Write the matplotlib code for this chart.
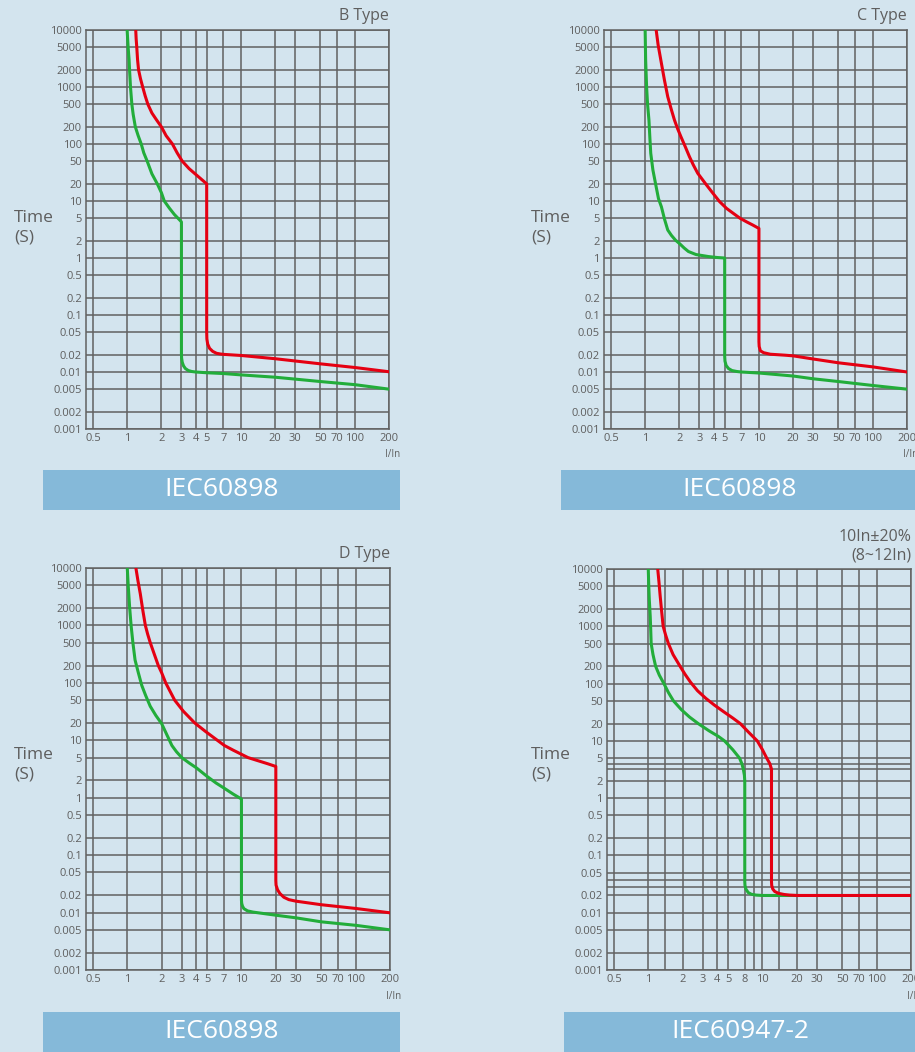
import matplotlib
matplotlib.use('Agg')
import matplotlib.pyplot as plt
from matplotlib.patches import Rectangle
from matplotlib.ticker import NullLocator

plt.rcParams.update({
    'font.family': ['Open Sans', 'DejaVu Sans'],
    'font.size': 8,
})

BG = '#d3e4ee'
GRID = '#616161'
TEXT = '#5e5e5e'
RED = '#e50012'
GREEN = '#22ad3a'
BANNER = '#85b9d9'

# axis ticks shared by all panels
x_ticks = [0.5, 1, 2, 3, 4, 5, 7, 10, 20, 30, 50, 70, 100, 200]
x_labels = ['0.5', '1', '2', '3', '4', '5', '7', '10', '20', '30', '50', '70', '100', '200']
x_labels_947 = ['0.5', '1', '2', '3', '4', '5', '8', '10', '20', '30', '50', '70', '100', '200']
y_ticks = [0.001, 0.002, 0.005, 0.01, 0.02, 0.05, 0.1, 0.2, 0.5, 1, 2, 5,
           10, 20, 50, 100, 200, 500, 1000, 2000, 5000, 10000]
y_labels = ['0.001', '0.002', '0.005', '0.01', '0.02', '0.05', '0.1', '0.2', '0.5', '1', '2', '5',
            '10', '20', '50', '100', '200', '500', '1000', '2000', '5000', '10000']

# B type
b_red_x = [1.19, 1.2, 1.215, 1.235, 1.26, 1.31, 1.37, 1.44, 1.52, 1.65, 1.8, 2.0, 2.2, 2.5, 2.75, 3.05, 3.5, 4.2, 5.0,
           5.0, 5.02, 5.1, 5.3, 5.65, 6.1, 6.6, 7, 10, 20, 30, 50, 100, 200]
b_red_t = [10000, 7000, 5000, 3000, 2000, 1400, 1000, 700, 500, 350, 270, 200, 140, 100, 70, 50, 37, 27, 20,
           0.05, 0.038, 0.031, 0.026, 0.023, 0.0213, 0.0207, 0.0204, 0.0195, 0.0171, 0.0156, 0.0139, 0.012, 0.0101]
b_green_x = [1.0, 1.01, 1.02, 1.04, 1.05, 1.07, 1.1, 1.13, 1.18, 1.25, 1.33, 1.4, 1.5, 1.65, 1.84, 2.0, 2.12, 2.35,
             2.6, 2.85, 3.0, 3.0, 3.01, 3.05, 3.13, 3.25, 3.45, 3.7, 4.0, 5, 7, 10, 20, 30, 50, 100, 200]
b_green_t = [10000, 7000, 5000, 3000, 2000, 1000, 500, 330, 200, 140, 100, 70, 50, 30, 20, 14, 10, 7.5,
             5.8, 4.8, 4.3, 0.021, 0.0175, 0.0148, 0.0128, 0.0115, 0.0106, 0.0102, 0.0100, 0.0097, 0.0094,
             0.0089, 0.0081, 0.0075, 0.0068, 0.006, 0.005]

# C type
c_red_x = [1.25, 1.3, 1.39, 1.48, 1.58, 1.7, 1.81, 1.93, 2.06, 2.25, 2.45, 2.65, 2.9, 3.4, 3.95, 4.5, 5.2, 6.0, 6.8,
           7.8, 8.8, 10, 10, 10.05, 10.3, 11, 12.6, 17.1, 20, 30, 50, 100, 200]
c_red_t = [10000, 5500, 2600, 1300, 676, 400, 263, 185, 135, 90, 60, 43, 30.6, 20, 13.6, 9.8, 7.4, 6.0, 5.0,
           4.3, 3.8, 3.3, 0.034, 0.028, 0.0235, 0.0218, 0.0205, 0.0197, 0.0192, 0.0169, 0.0145, 0.0123, 0.01]
c_green_x = [1.0, 1.01, 1.03, 1.05, 1.08, 1.1, 1.12, 1.17, 1.25, 1.31, 1.39, 1.48, 1.58, 1.7, 1.85, 2.0, 2.2, 2.4,
             2.8, 3.6, 4.3, 5.0, 5.0, 5.03, 5.15, 5.4, 5.8, 6.4, 7, 10, 20, 30, 50, 100, 200]
c_green_t = [10000, 3000, 1000, 500, 263, 130, 69, 35, 17.7, 11, 7.9, 4.8, 3.1, 2.5, 2.05, 1.8, 1.5, 1.3,
             1.15, 1.06, 1.02, 1.0, 0.019, 0.0155, 0.013, 0.0115, 0.0106, 0.0102, 0.0100, 0.0096, 0.0085,
             0.0076, 0.0068, 0.0058, 0.005]

# D type
d_red_x = [1.19, 1.24, 1.30, 1.37, 1.44, 1.51, 1.59, 1.72, 1.87, 2.0, 2.17, 2.6, 3.1, 3.9, 4.9, 6.15, 7.1, 8.5, 10,
           11.4, 14, 17, 20, 20, 20.1, 20.7, 21.7, 23.5, 26, 30, 50, 100, 200]
d_red_t = [10000, 6000, 3560, 1800, 1000, 700, 500, 320, 200, 150, 100, 50, 32, 20, 14, 10, 8.1, 6.7, 5.7,
           5.0, 4.4, 3.9, 3.5, 0.036, 0.03, 0.025, 0.0215, 0.0185, 0.0168, 0.0158, 0.0137, 0.0118, 0.0099]
d_green_x = [1.0, 1.02, 1.05, 1.08, 1.12, 1.17, 1.25, 1.34, 1.45, 1.59, 1.78, 2.0, 2.2, 2.46, 2.7, 3.0, 3.5, 4.04,
             5.0, 6.0, 7.0, 8.5, 10, 10, 10.05, 10.2, 10.5, 11.3, 12.6, 20, 30, 50, 100, 200]
d_green_t = [10000, 4800, 2000, 1000, 500, 250, 150, 90, 60, 39, 27, 19.5, 13, 8.1, 6.3, 5.0, 4.0, 3.3,
             2.35, 1.8, 1.48, 1.15, 0.95, 0.0164, 0.0145, 0.013, 0.0117, 0.0107, 0.0102, 0.009, 0.0081,
             0.0069, 0.006, 0.005]

# IEC60947-2
m_red_x = [1.21, 1.24, 1.27, 1.31, 1.35, 1.42, 1.5, 1.65, 1.9, 2.1, 2.35, 2.7, 3.2, 3.8, 4.6, 5.5, 6.4, 7.6, 9.0,
           10.0, 10.9, 11.6, 12, 12, 12.05, 12.3, 12.8, 13.8, 15.5, 17.3, 20, 200]
m_red_t = [10000, 6000, 3450, 1800, 1000, 700, 500, 320, 200, 145, 105, 75, 55, 42, 32, 25, 20, 14, 10,
           7, 5, 4, 3.2, 0.035, 0.03, 0.026, 0.0235, 0.0218, 0.0208, 0.0203, 0.02, 0.02]
m_green_x = [1.0, 1.01, 1.02, 1.04, 1.05, 1.06, 1.1, 1.16, 1.25, 1.37, 1.5, 1.66, 1.95, 2.3, 2.74, 3.4, 4.1, 4.65,
             5.5, 6.3, 6.6, 6.8, 6.95, 7.0, 7.0, 7.03, 7.15, 7.5, 8.0, 8.8, 10, 20]
m_green_t = [10000, 5000, 3000, 1500, 900, 500, 320, 200, 140, 100, 70, 50, 35, 26, 20, 15, 12, 10,
             7, 5, 4, 3.2, 2.5, 2.0, 0.035, 0.03, 0.026, 0.0225, 0.021, 0.0203, 0.02, 0.02]
m_extra_x = [1.4, 8.4, 14]
m_extra_t = [3.2, 4.0, 0.028, 0.037]

W, H = 915, 1052
fig = plt.figure(figsize=(W / 100, H / 100), dpi=100, facecolor=BG)


def px_axes(left, right, top, bottom):
    return fig.add_axes([left / W, 1 - bottom / H, (right - left) / W, (bottom - top) / H])


def draw_panel(ax, red, green, xlabels, title, extra_x=(), extra_t=()):
    ax.set_facecolor(BG)
    ax.set_xscale('log')
    ax.set_yscale('log')
    ax.set_xlim(0.435, 200)
    ax.set_ylim(0.001, 10000)
    ax.set_xticks(x_ticks, labels=xlabels)
    ax.set_yticks(y_ticks, labels=y_labels)
    ax.xaxis.set_minor_locator(NullLocator())
    ax.yaxis.set_minor_locator(NullLocator())
    ax.tick_params(length=0, colors=TEXT, labelsize=8, pad=3)
    ax.grid(True, which='major', color=GRID, lw=1.1)
    for v in extra_x:
        ax.axvline(v, color=GRID, lw=1.1)
    for v in extra_t:
        ax.axhline(v, color=GRID, lw=1.1)
    for s in ax.spines.values():
        s.set_color(GRID)
        s.set_linewidth(1.1)
    ax.plot(green[0], green[1], color=GREEN, lw=2.2, solid_joinstyle='round', zorder=3)
    ax.plot(red[0], red[1], color=RED, lw=2.2, solid_joinstyle='round', zorder=4)
    ax.text(1.036, -0.065, 'I/In', transform=ax.transAxes, ha='right', va='center',
            fontsize=7, color=TEXT)
    ax.annotate(title, xy=(1.0, 1.0), xycoords='axes fraction', xytext=(0, 7),
                textcoords='offset points', ha='right', va='baseline',
                fontsize=11.5, color=TEXT, linespacing=1.15)


ax1 = px_axes(86, 389, 30, 429)
draw_panel(ax1, (b_red_x, b_red_t), (b_green_x, b_green_t), x_labels, 'B Type')
ax2 = px_axes(604, 907, 30, 429)
draw_panel(ax2, (c_red_x, c_red_t), (c_green_x, c_green_t), x_labels, 'C Type')
ax3 = px_axes(86, 390, 568, 970)
draw_panel(ax3, (d_red_x, d_red_t), (d_green_x, d_green_t), x_labels, 'D Type')
ax4 = px_axes(607, 911, 569, 970)
draw_panel(ax4, (m_red_x, m_red_t), (m_green_x, m_green_t), x_labels_947,
           '10In±20%\n(8~12In)', m_extra_x, m_extra_t)

# y-axis captions
for x0, yc in [(14, 228), (531, 228), (14, 765), (531, 765)]:
    fig.text(x0 / W, 1 - yc / H, 'Time\n(S)', ha='left', va='center',
             fontsize=12.5, color=TEXT, linespacing=1.3)

# standard banners
banners = [(43, 400, 470, 510, 'IEC60898'), (561, 915, 470, 510, 'IEC60898'),
           (43, 400, 1012, 1052, 'IEC60898'), (564, 915, 1012, 1052, 'IEC60947-2')]
for x0, x1, y0, y1, label in banners:
    fig.add_artist(Rectangle((x0 / W, 1 - y1 / H), (x1 - x0) / W, (y1 - y0) / H,
                             transform=fig.transFigure, facecolor=BANNER, edgecolor='none'))
    cx = (x0 + x1) / 2 if x1 < 915 else 740
    fig.text(cx / W, 1 - (y0 + y1) / 2 / H, label, ha='center', va='center',
             fontsize=19, color='white')

fig.savefig('out.png', dpi=100, facecolor=BG)
